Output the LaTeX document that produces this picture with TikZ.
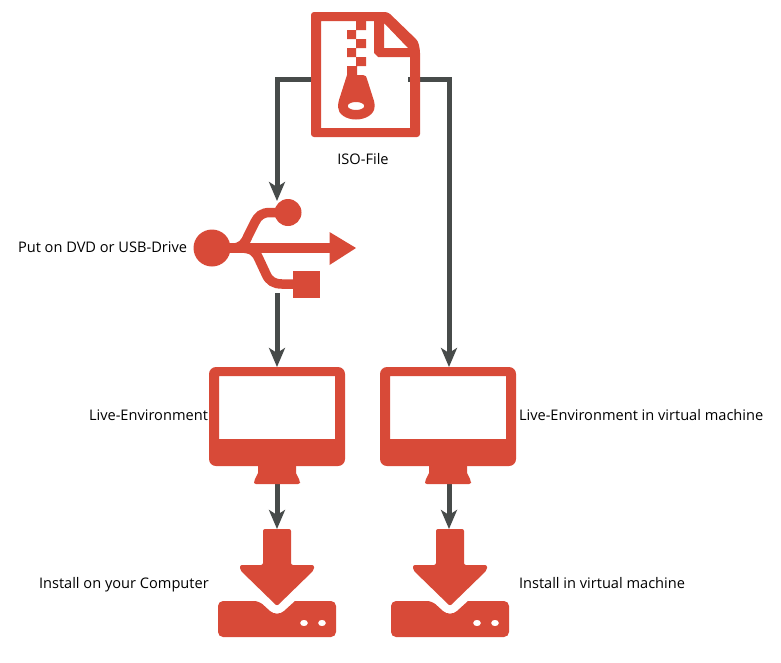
\documentclass[tikz,border=0pt]{standalone}
\usepackage{fontspec}
\setmainfont{Open Sans}
\usetikzlibrary{arrows.meta}
\definecolor{iconred}{HTML}{D84A38}
\definecolor{linegray}{HTML}{474B4A}
\tikzset{
  x=1pt,y=-1pt,
  iconfill/.style={fill=iconred,draw=none},
  anchorbox/.style={inner sep=0pt,outer sep=0pt,minimum width=#1},
  conn/.style={draw=linegray,line width=5pt,-{Stealth[length=19pt,width=16pt,inset=5pt]}},
  lbl/.style={inner sep=0pt,outer sep=0pt,font=\fontsize{14.6}{17}\selectfont,text=black,text height=10pt,text depth=3pt},
  monitor/.pic={
    \fill[iconfill,even odd rule]
      [rounded corners=7pt] (-68,0) -- (68,0) -- (68,99) -- (-68,99) -- cycle
      [sharp corners] (-58,9) -- (58,9) -- (58,72) -- (-58,72) -- cycle;
    \fill[iconfill] (-19,98) -- (19,98) -- (19,106) [rounded corners=2pt] -- (23,114) -- (23,117) -- (-23,117) -- (-23,114) [sharp corners] -- (-19,106) -- cycle;
  },
  install/.pic={
    \fill[iconfill,rounded corners=2pt] (-14,0) -- (14,0) -- (14,36) -- (37,36) -- (37,41) -- (0,77) -- (-37,41) -- (-37,36) -- (-14,36) -- cycle;
    \fill[iconfill,even odd rule]
      [rounded corners=5pt] (-59,72) -- (-18,72) [sharp corners] -- (-7,82) .. controls (-3,85.5) and (3,85.5) .. (7,82) -- (18,72) [rounded corners=5pt] -- (59,72) -- (59,108) -- (-59,108) -- cycle
      [sharp corners] (27,94) ellipse [x radius=4,y radius=3.2] (45,94) ellipse [x radius=4,y radius=3.2];
  }
}
\begin{document}
\begin{tikzpicture}
\useasboundingbox (0,0) rectangle (781,662);
% named anchor boxes (invisible), sized to the icons
\node[anchorbox=95pt,minimum height=8pt] (iso) at (360.5,79) {};
\node[anchorbox=40pt,minimum height=92pt] (usb) at (277,247) {};
\node[anchorbox=136pt,minimum height=117pt] (monA) at (277,425.5) {};
\node[anchorbox=136pt,minimum height=117pt] (monB) at (449,425.5) {};
\node[anchorbox=118pt,minimum height=108pt] (insA) at (277,583) {};
\node[anchorbox=118pt,minimum height=108pt] (insB) at (449,583) {};
% connectors
\draw[conn] (iso.west) -| (usb.north);
\draw[conn] (iso.east) -| (monB.north);
\draw[conn] (usb.south) -- (monA.north);
\draw[conn] (monA.south) -- (insA.north);
\draw[conn] (monB.south) -- (insB.north);
% ISO file icon
\fill[iconfill,even odd rule]
  [rounded corners=3pt] (311,12) -- (388,12) -- (418,41) -- (420,50) -- (420,137) -- (311,137) -- cycle
  [sharp corners] (321,21) -- (374,21) -- (374,53) -- (378,57) -- (410,57) -- (410,128) -- (321,128) -- cycle
  (384,23) -- (408,48) -- (384,48) -- cycle;
\fill[iconfill] (356,21) rectangle (366,30) (347,30) rectangle (356,39) (356,39) rectangle (366,48)
  (347,48) rectangle (356,57) (356,57) rectangle (366,66) (347,66) rectangle (357,76);
\fill[iconfill,even odd rule] (347,75) -- (363,75) .. controls (366,75) and (366.5,77) .. (367,79) -- (374,101) .. controls (375,104) and (374.5,106) .. (374.5,107)
  .. controls (374.5,114) and (366,119.5) .. (356,119.5) .. controls (346,119.5) and (338,114) .. (338,107)
  .. controls (338,104) and (338.5,102) .. (339,100) -- cycle
  (356,106) ellipse [x radius=8.3,y radius=4];
% USB icon
\fill[iconfill] (212,248) circle [radius=18.5] (288,212.5) circle [radius=13.5];
\fill[iconfill] (293,271) rectangle (320,298);
\fill[iconfill] (329.5,232) -- (356,248) -- (329.5,265) -- cycle;
\draw[iconred,line width=9.5pt] (225,248) -- (332,248);
\draw[iconred,line width=9.5pt] (232,248) .. controls (242,248) and (245,243) .. (248,236) -- (255,222) .. controls (258,216) and (262,212.5) .. (270,212.5) -- (288,212.5);
\draw[iconred,line width=9.5pt] (240,248) .. controls (252,248) and (256,252) .. (259,259) -- (266,274) .. controls (269,281) and (274,284) .. (282,284) -- (300,284);
% monitors and install icons
\pic at (277,367) {monitor};
\pic at (448,367) {monitor};
\pic at (277,529) {install};
\pic at (450,529) {install};
% labels
\node[lbl,anchor=center] (tIso) at (363,161) {ISO-File};
\node[lbl,anchor=west] (tPut) at (18,249) {Put on DVD or USB-Drive};
\node[lbl,anchor=west] (tLive) at (89,417) {Live-Environment};
\node[lbl,anchor=west] (tLiveB) at (519,417) {Live-Environment in virtual machine};
\node[lbl,anchor=west] (tInst) at (39,585) {Install on your Computer};
\node[lbl,anchor=west] (tInstB) at (519,585) {Install in virtual machine};
\end{tikzpicture}
\end{document}
